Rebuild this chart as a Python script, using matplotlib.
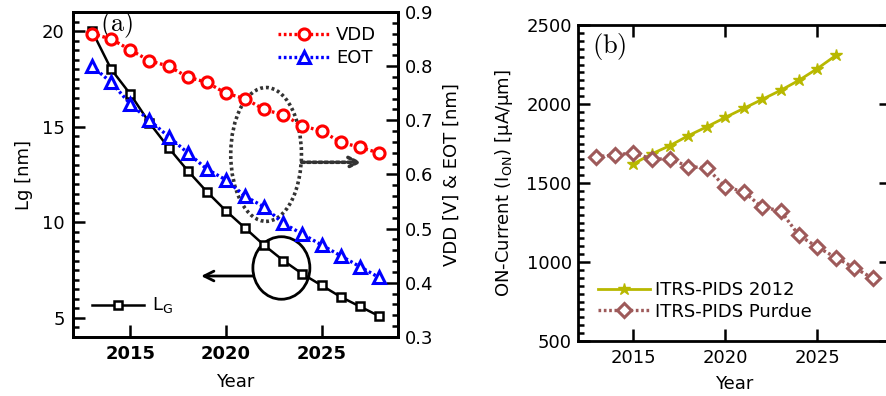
import numpy as np
import matplotlib
matplotlib.use("Agg")
import matplotlib.pyplot as plt
from matplotlib.patches import Ellipse
from matplotlib.ticker import MultipleLocator

plt.rcParams['font.family'] = ['DejaVu Sans']
plt.rcParams['mathtext.fontset'] = 'cm'
fs = 13
dots = (0, (0.8, 0.8))  # dense dotted line like the reference

# ---- data ----
years = np.arange(2013, 2029)
lg = [20.0, 18.0, 16.7, 15.2, 13.9, 12.7, 11.6, 10.6, 9.7, 8.8, 8.0, 7.3, 6.7, 6.1, 5.6, 5.1]
vdd = [0.86, 0.85, 0.83, 0.81, 0.80, 0.78, 0.77, 0.75, 0.74, 0.72, 0.71, 0.69, 0.68, 0.66, 0.65, 0.64]
eot = [0.80, 0.77, 0.73, 0.70, 0.67, 0.64, 0.61, 0.59, 0.56, 0.54, 0.51, 0.49, 0.47, 0.45, 0.43, 0.41]

years_itrs = np.arange(2015, 2027)
ion_itrs = [1620, 1684, 1737, 1800, 1856, 1915, 1972, 2029, 2086, 2150, 2224, 2307]
years_purdue = np.arange(2013, 2029)
ion_purdue = [1667, 1676, 1692, 1652, 1652, 1604, 1595, 1475, 1445, 1346, 1325, 1168,
              1095, 1028, 964, 898]

fig = plt.figure(figsize=(8.86, 3.96), dpi=100)

def style_ticks(ax):
    ax.tick_params(which='major', direction='in', length=8.5, width=1.8, labelsize=fs)
    ax.tick_params(which='minor', direction='in', length=4.5, width=1.8)
    for s in ax.spines.values():
        s.set_linewidth(2)

#%% panel (a)
ax1 = fig.add_axes([73/886, 1-337/396, 325/886, 325/396])
ax2 = ax1.twinx()

ax1.plot(years, lg, '-s', color='k', lw=1.8, ms=6, mfc='white', mew=1.8, label=r'L$_\mathregular{G}$')
ax2.plot(years, vdd, ls=dots, marker='o', color='#ff0000', lw=2.4, ms=8, mfc='white', mew=2.2, label='VDD')
ax2.plot(years, eot, ls=dots, marker='^', color='#0000ff', lw=2.4, ms=8, mfc='white', mew=2.2, label='EOT')

ax1.set_xlim(2012, 2029)
ax1.set_ylim(4, 21)
ax2.set_ylim(0.3, 0.9)
ax1.set_xticks([2015, 2020, 2025])
ax1.set_yticks([5, 10, 15, 20])
ax1.yaxis.set_minor_locator(MultipleLocator(0.5))
ax2.set_yticks(np.arange(0.3, 0.91, 0.1))
ax2.yaxis.set_minor_locator(MultipleLocator(0.02))
style_ticks(ax1)
style_ticks(ax2)
ax1.tick_params(axis='y', pad=6)
ax1.tick_params(axis='x', pad=6)
ax2.tick_params(axis='y', pad=5)
for t in ax1.get_xticklabels():
    t.set_fontweight('bold')

ax1.set_xlabel('Year', fontsize=fs)
ax1.xaxis.set_label_coords(0.5, -0.11)
ax1.set_ylabel('Lg [nm]', fontsize=fs)
ax1.yaxis.set_label_coords(-0.123, 0.5)
ax2.set_ylabel('VDD [V] & EOT [nm]', fontsize=fs)
ax2.yaxis.set_label_coords(1.138, 0.5)

ax1.text(0.083, 0.96, r'$\mathrm{(a)}$', transform=ax1.transAxes, fontsize=19,
         va='center', ha='left')

# annotations: ellipse -> right axis, circle -> left axis
ax1.add_patch(Ellipse((2022.1, 13.55), 3.7, 7.0, fill=False, ls=dots, lw=2.6, color='#333333'))
ax1.annotate('', xy=(2027.1, 13.14), xytext=(2023.96, 13.14),
             arrowprops=dict(arrowstyle='->,head_length=0.7,head_width=0.35', ls=dots, lw=2.6,
                             color='#333333', shrinkA=0, shrinkB=0))
ax1.add_patch(Ellipse((2022.9, 7.61), 2.98, 3.27, fill=False, lw=2, color='k'))
ax1.annotate('', xy=(2018.7, 7.19), xytext=(2021.41, 7.19),
             arrowprops=dict(arrowstyle='->,head_length=0.7,head_width=0.35', lw=2,
                             color='k', shrinkA=0, shrinkB=0))

ax2.legend(loc='upper left', bbox_to_anchor=((278-73)/325, 1-(26-12)/325), frameon=False,
           fontsize=fs, borderpad=0, handlelength=2.9, handletextpad=0.3,
           labelspacing=0.28, numpoints=1, borderaxespad=0)
ax1.legend(loc='upper left', bbox_to_anchor=((92-73)/325, 1-(296-12)/325), frameon=False,
           fontsize=fs, borderpad=0, handlelength=2.9, handletextpad=0.4,
           numpoints=1, borderaxespad=0)

#%% panel (b)
ax3 = fig.add_axes([578/886, 1-341/396, 313/886, 316/396])
ax3.plot(years_itrs, ion_itrs, '-*', color='#b8b800', lw=2, ms=9, label='ITRS-PIDS 2012')
ax3.plot(years_purdue, ion_purdue, ls=dots, marker='D', color='#9e5a5a', lw=2.4, ms=7,
         mfc='white', mew=2.2, label='ITRS-PIDS Purdue')
ax3.set_xlim(2012, 2029)
ax3.set_ylim(500, 2500)
ax3.set_xticks([2015, 2020, 2025])
ax3.set_yticks(np.arange(500, 2501, 500))
ax3.yaxis.set_minor_locator(MultipleLocator(50))
style_ticks(ax3)
ax3.tick_params(axis='x', top=True, pad=6)
ax3.tick_params(axis='y', which='major', right=True, pad=4.5)
ax3.tick_params(axis='y', which='minor', right=False)
ax3.set_xlabel('Year', fontsize=fs)
ax3.xaxis.set_label_coords(0.5, -0.107)
ax3.set_ylabel(r'ON-Current (I$_\mathregular{ON}$) [$\mathregular{\mu}$A/$\mathregular{\mu}$m]', fontsize=fs)
ax3.yaxis.set_label_coords(-0.2, 0.5)
ax3.text(0.044, 0.932, r'$\mathrm{(b)}$', transform=ax3.transAxes, fontsize=19,
         va='center', ha='left')
ax3.legend(loc='upper left', bbox_to_anchor=((597.7-578)/313, 1-(281-25)/316), frameon=False,
           fontsize=fs, borderpad=0, handlelength=2.9, handletextpad=0.3,
           labelspacing=0.2, numpoints=1, borderaxespad=0)

plt.savefig('out.png', dpi=100)
